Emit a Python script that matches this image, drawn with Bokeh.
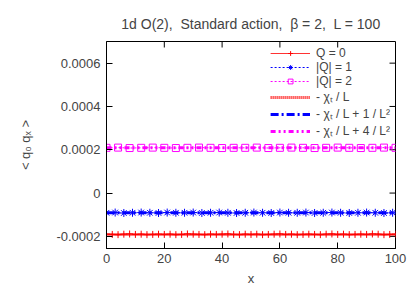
import math
from bokeh.plotting import figure
from bokeh.models import (Range1d, FixedTicker, CustomJSTickFormatter, Legend,
                          LegendItem, ColumnDataSource)
from bokeh.embed import file_html
from bokeh.resources import INLINE

# values in units of 1e-4
SCALE = 1e-4

x_q0 = list(range(0, 101, 2))
q0 = [-1.90, -1.91, -1.92, -1.90, -1.89, -1.91, -1.90, -1.92, -1.91, -1.90,
      -1.91, -1.90, -1.92, -1.91, -1.89, -1.90, -1.91, -1.92, -1.90, -1.91,
      -1.90, -1.89, -1.91, -1.92, -1.90, -1.91, -1.90, -1.92, -1.91, -1.90,
      -1.89, -1.91, -1.90, -1.92, -1.91, -1.90, -1.91, -1.92, -1.90, -1.89,
      -1.91, -1.90, -1.92, -1.91, -1.90, -1.91, -1.89, -1.90, -1.92, -1.91,
      -1.90]
q0_err = [0.04, 0.04, 0.04, 0.04, 0.04, 0.04, 0.04, 0.04, 0.04, 0.04,
          0.04, 0.04, 0.04, 0.04, 0.04, 0.04, 0.04, 0.04, 0.04, 0.04,
          0.04, 0.04, 0.04, 0.04, 0.04, 0.04, 0.04, 0.04, 0.04, 0.04,
          0.04, 0.04, 0.04, 0.04, 0.04, 0.04, 0.04, 0.04, 0.04, 0.04,
          0.04, 0.04, 0.04, 0.04, 0.04, 0.04, 0.04, 0.04, 0.04, 0.04,
          0.04]

x_q1 = list(range(0, 100, 3))
q1 = [-0.91, -0.90, -0.92, -0.91, -0.90, -0.91, -0.92, -0.90, -0.91, -0.91,
      -0.90, -0.92, -0.91, -0.90, -0.91, -0.92, -0.91, -0.90, -0.91, -0.92,
      -0.90, -0.91, -0.91, -0.90, -0.92, -0.91, -0.90, -0.91, -0.92, -0.91,
      -0.90, -0.91, -0.92, -0.91]

x_q2 = list(range(0, 101, 4))
q2 = [2.09, 2.10, 2.08, 2.09, 2.10, 2.09, 2.08, 2.09, 2.10, 2.09,
      2.08, 2.09, 2.09, 2.10, 2.08, 2.09, 2.10, 2.09, 2.08, 2.09,
      2.10, 2.09, 2.08, 2.09, 2.10, 2.09]

x_ref = [0, 100]
ref0 = [-1.91, -1.91]
ref1 = [-0.91, -0.91]
ref2 = [2.09, 2.09]

y_ticks = [-2, 0, 2, 4, 6]
x_ticks = [0, 20, 40, 60, 80, 100]

X_MIN, X_MAX = 0, 100
Y_MIN, Y_MAX = -0.000256, 0.0007

FONT = "Liberation Sans"
NB = "\u00a0"

p = figure(width=415, height=291, output_backend="svg", toolbar_location=None,
           x_range=Range1d(X_MIN, X_MAX), y_range=Range1d(Y_MIN, Y_MAX),
           min_border_left=106, min_border_right=20, min_border_top=41,
           min_border_bottom=43,
           title="1d O(2)," + NB + " Standard action," + NB + " \u03b2 = 2," + NB + " L = 100")
p.title.align = "center"
p.title.text_font = FONT
p.title.text_font_size = "14px"
p.title.text_font_style = "normal"
p.title.offset = 0
p.title.standoff = 19
p.grid.visible = False
p.outline_line_color = "black"
p.outline_line_width = 1
p.background_fill_color = "white"
p.border_fill_color = "white"

xb = p.below[0]
yl = p.left[0]
for ax in (xb, yl):
    ax.major_tick_in = 6
    ax.major_tick_out = 0
    ax.minor_tick_line_color = None
    ax.major_label_text_font = FONT
    ax.major_label_text_font_size = "13px"
    ax.axis_label_text_font = FONT
    ax.axis_label_text_font_size = "13px"
    ax.axis_label_text_font_style = "normal"
    ax.axis_line_color = "black"

xb.ticker = FixedTicker(ticks=x_ticks)
yl.ticker = FixedTicker(ticks=[v * SCALE for v in y_ticks])
yl.formatter = CustomJSTickFormatter(
    code="if (Math.abs(tick) < 1e-12) { return '0'; } return tick.toFixed(4);")
xb.axis_label = "x"
yl.axis_label = "< q\u2080 q\u2093 >"
xb.major_label_standoff = 5
yl.major_label_standoff = 6
xb.axis_label_standoff = 5
yl.axis_label_standoff = 20

# mirror ticks on top and right edges (half of each dash is clipped by the frame)
p.scatter(x_ticks[1:-1], [Y_MAX] * (len(x_ticks) - 2), marker="dash", angle=math.pi / 2,
          size=12, line_color="black", line_width=1)
p.scatter([X_MAX] * len(y_ticks), [v * SCALE for v in y_ticks], marker="dash",
          size=12, line_color="black", line_width=1)

src0 = ColumnDataSource(dict(x=x_q0, y=[v * SCALE for v in q0],
                             lo=[(v - e) * SCALE for v, e in zip(q0, q0_err)],
                             hi=[(v + e) * SCALE for v, e in zip(q0, q0_err)]))
src1 = ColumnDataSource(dict(x=x_q1, y=[v * SCALE for v in q1]))
src2 = ColumnDataSource(dict(x=x_q2, y=[v * SCALE for v in q2]))

RED = "#ff0000"
BLUE = "#0000ff"
MAG = "#ff00ff"

# reference lines
r_ref0 = p.line(x_ref, [v * SCALE for v in ref0], line_color=RED, line_width=3,
                line_dash="1 1")
r_ref1 = p.line(x_ref, [v * SCALE for v in ref1], line_color=BLUE, line_width=3,
                line_dash="8 3 2 3")
r_ref2 = p.line(x_ref, [v * SCALE for v in ref2], line_color=MAG, line_width=3,
                line_dash="5 3 2 3 2 3")

# data series
l0 = p.line("x", "y", source=src0, line_color=RED, line_width=1, line_alpha=0.8)
e0 = p.segment(x0="x", y0="lo", x1="x", y1="hi", source=src0, line_color=RED,
               line_width=1)
s0 = p.scatter("x", "y", source=src0, marker="cross", size=7, line_color=RED,
               line_width=1)

l1 = p.line("x", "y", source=src1, line_color=BLUE, line_width=1, line_dash="2 2")
s1 = p.scatter("x", "y", source=src1, marker="asterisk", size=8, line_color=BLUE,
               line_width=1)

l2 = p.line("x", "y", source=src2, line_color=MAG, line_width=1, line_dash="2 2")
s2 = p.scatter("x", "y", source=src2, marker="square", size=7, line_color=MAG,
               fill_color=None, line_width=1)

legend = Legend(items=[
    LegendItem(label="Q = 0", renderers=[l0, s0]),
    LegendItem(label="|Q| = 1", renderers=[l1, s1]),
    LegendItem(label="|Q| = 2", renderers=[l2, s2]),
    LegendItem(label="- \u03c7\u209c / L", renderers=[r_ref0]),
    LegendItem(label="- \u03c7\u209c / L + 1 / L\u00b2", renderers=[r_ref1]),
    LegendItem(label="- \u03c7\u209c / L + 4 / L\u00b2", renderers=[r_ref2]),
], location="top_right")
legend.background_fill_alpha = 0
legend.border_line_color = None
legend.label_text_font = FONT
legend.label_text_font_size = "12px"
legend.glyph_width = 40
legend.glyph_height = 12
legend.label_height = 12
legend.spacing = -5
legend.padding = 2
legend.margin = 5
legend.label_standoff = 6
p.add_layout(legend)

open("out.html", "w").write(file_html(p, INLINE))
